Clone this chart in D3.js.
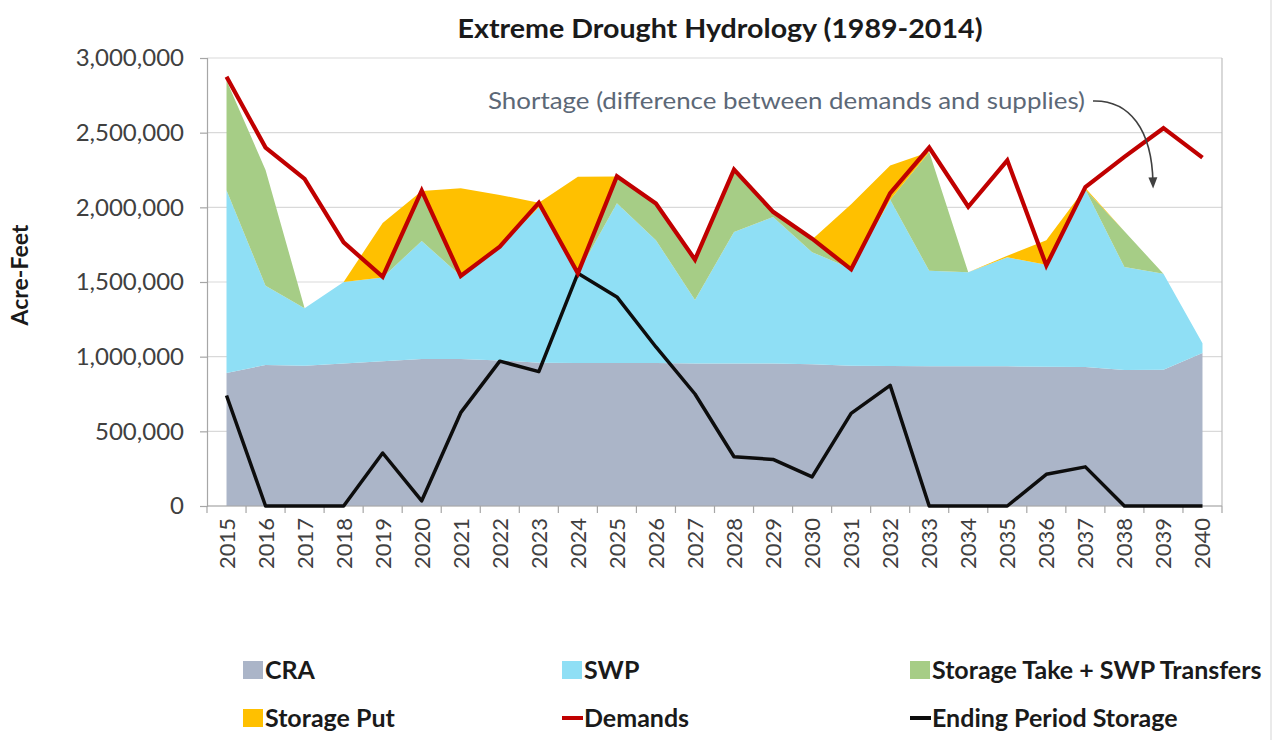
<!DOCTYPE html>
<html>
<head>
<meta charset="utf-8">
<script src="https://cdn.jsdelivr.net/npm/d3@7"></script>
<style>
  body { margin: 0; background: #fff; }
  svg { display: block; font-family: Lato, "Open Sans", sans-serif; }
</style>
</head>
<body>
<div id="chart"></div>
<script>
// years on the x axis
var years = ["2015","2016","2017","2018","2019","2020","2021","2022","2023","2024","2025","2026","2027",
             "2028","2029","2030","2031","2032","2033","2034","2035","2036","2037","2038","2039","2040"];

// supplies (acre-feet), stacked in this order
var cra  = [890000,945000,940000,955000,970000,985000,985000,975000,960000,958000,958000,958000,955000,
            955000,955000,950000,940000,937000,935000,935000,935000,933000,930000,910000,912000,1025000];
var swp  = [1225000,530000,385000,545000,560000,790000,555000,760000,1040000,600000,1069000,822000,425000,
            880000,980000,750000,648000,1113000,640000,630000,730000,682000,1190000,690000,643000,65000];
var storageTake = [735000,775000,0,0,0,335000,0,0,0,0,180000,245000,270000,
                   418000,35000,85000,0,0,795000,0,0,0,0,240000,0,0];
var storagePut  = [0,0,0,0,365000,0,587000,348000,30000,647000,0,0,0,
                   0,0,0,432000,230000,0,0,10000,165000,10000,0,0,0];

// lines
var demands = [2875000,2400000,2190000,1765000,1535000,2112000,1540000,1737000,2030000,1558000,2208000,2025000,1650000,
               2253000,1970000,1790000,1585000,2095000,2400000,2004000,2315000,1610000,2135000,2338000,2530000,2333000];
var endingStorage = [740000,0,0,0,355000,35000,625000,970000,900000,1558000,1400000,1065000,750000,
                     330000,312000,195000,620000,808000,0,0,0,212000,262000,0,0,0];

var yTicks = [0,500000,1000000,1500000,2000000,2500000,3000000];

var W = 1278, H = 740;
var pl = 207, pr = 1222, pt = 58, pb = 506;

var svg = d3.select("#chart").append("svg")
    .attr("width", W)
    .attr("height", H);

var x = d3.scaleBand().domain(years).range([pl, pr]).padding(0);
var cx = function(d) { return x(d) + x.bandwidth() / 2; };
var y = d3.scaleLinear().domain([0, 3000000]).range([pb, pt]);

// frame line at the far right of the picture
svg.append("line")
    .attr("x1", 1271).attr("x2", 1271).attr("y1", 0).attr("y2", H)
    .style("stroke", "#e3e3e3").style("stroke-width", 1.5);

// title
svg.append("text")
    .attr("x", 720).attr("y", 38)
    .attr("text-anchor", "middle")
    .attr("textLength", 525).attr("lengthAdjust", "spacingAndGlyphs")
    .style("font-size", "26px").style("font-weight", "bold").style("fill", "#1a1a1a")
    .text("Extreme Drought Hydrology (1989-2014)");

// gridlines
svg.append("g").selectAll("line")
    .data(yTicks)
    .enter().append("line")
    .attr("x1", pl).attr("x2", pr)
    .attr("y1", function(d) { return y(d); })
    .attr("y2", function(d) { return y(d); })
    .style("stroke", "#d9d9d9").style("stroke-width", 1.2);

// stacked areas
var rows = years.map(function(yr, i) {
    return {year: yr, cra: cra[i], swp: swp[i], take: storageTake[i], put: storagePut[i]};
});
var stack = d3.stack().keys(["cra", "swp", "take", "put"]);
var layers = stack(rows);
var fills = {cra: "#abb5c8", swp: "#8fdff5", take: "#a6cd86", put: "#ffc000"};

var area = d3.area()
    .x(function(d) { return cx(d.data.year); })
    .y0(function(d) { return y(d[0]); })
    .y1(function(d) { return y(d[1]); });

svg.append("g").selectAll("path")
    .data(layers)
    .enter().append("path")
    .attr("d", area)
    .style("fill", function(d) { return fills[d.key]; })
    .style("stroke", "none");

// plot border (right side)
svg.append("line")
    .attr("x1", pr).attr("x2", pr).attr("y1", pt).attr("y2", pb)
    .style("stroke", "#bfbfbf").style("stroke-width", 1.2);

// y axis
var yAxis = d3.axisLeft(y)
    .tickValues(yTicks)
    .tickFormat(d3.format(","))
    .tickSize(7)
    .tickPadding(16);
var gy = svg.append("g").attr("transform", "translate(" + pl + ",0)").call(yAxis);
gy.select(".domain").style("stroke", "#a6a6a6").style("stroke-width", 1.2);
gy.selectAll(".tick line").style("stroke", "#a6a6a6").style("stroke-width", 1.2);
gy.selectAll("text")
    .style("font-size", "24px").style("fill", "#404040")
    .style("font-family", "Lato, sans-serif");

// x axis: ticks between categories, labels rotated
var gx = svg.append("g").attr("transform", "translate(0," + pb + ")");
gx.append("line")
    .attr("x1", pl).attr("x2", pr)
    .style("stroke", "#a6a6a6").style("stroke-width", 1.2);
gx.selectAll(".xt")
    .data(years.concat(["end"]))
    .enter().append("line")
    .attr("class", "xt")
    .attr("x1", function(d, i) { return pl + i * x.bandwidth(); })
    .attr("x2", function(d, i) { return pl + i * x.bandwidth(); })
    .attr("y1", 0).attr("y2", 7)
    .style("stroke", "#a6a6a6").style("stroke-width", 1.2);
gx.selectAll("text")
    .data(years)
    .enter().append("text")
    .attr("transform", function(d) { return "translate(" + (cx(d) + 8) + ",12) rotate(-90)"; })
    .attr("text-anchor", "end")
    .style("font-size", "22px").style("fill", "#404040")
    .text(function(d) { return d; });

// y axis title
svg.append("text")
    .attr("transform", "translate(28,275) rotate(-90)")
    .attr("text-anchor", "middle")
    .style("font-size", "23px").style("font-weight", "bold").style("fill", "#1a1a1a")
    .text("Acre-Feet");

// lines
var line = d3.line()
    .x(function(d, i) { return cx(years[i]); })
    .y(function(d) { return y(d); });

svg.append("path")
    .datum(endingStorage)
    .attr("d", line)
    .style("fill", "none").style("stroke", "#0d0d0d").style("stroke-width", 3.5)
    .style("stroke-linejoin", "round");

svg.append("path")
    .datum(demands)
    .attr("d", line)
    .style("fill", "none").style("stroke", "#c00000").style("stroke-width", 4.2)
    .style("stroke-linejoin", "miter");

// shortage annotation
svg.append("defs").append("marker")
    .attr("id", "arrow")
    .attr("viewBox", "0 0 10 10")
    .attr("refX", 5).attr("refY", 5)
    .attr("markerWidth", 7).attr("markerHeight", 7)
    .attr("orient", "auto")
    .append("path")
    .attr("d", "M0,1 L10,5 L0,9 z")
    .style("fill", "#404040");

svg.append("text")
    .attr("x", 488).attr("y", 109)
    .attr("textLength", 597).attr("lengthAdjust", "spacingAndGlyphs")
    .style("font-size", "24px").style("fill", "#5c6877")
    .text("Shortage (difference between demands and supplies)");

svg.append("path")
    .attr("d", "M1093,101 C1130,100 1152,130 1153,183")
    .style("fill", "none").style("stroke", "#404040").style("stroke-width", 1.6)
    .attr("marker-end", "url(#arrow)");

// legend
var legendItems = [
    {name: "CRA", kind: "box", color: fills.cra, lx: 243, ly: 670},
    {name: "SWP", kind: "box", color: fills.swp, lx: 562, ly: 670},
    {name: "Storage Take + SWP Transfers", kind: "box", color: fills.take, lx: 910, ly: 670},
    {name: "Storage Put", kind: "box", color: fills.put, lx: 243, ly: 718},
    {name: "Demands", kind: "line", color: "#c00000", lx: 562, ly: 718},
    {name: "Ending Period Storage", kind: "line", color: "#0d0d0d", lx: 910, ly: 718}
];

var lg = svg.append("g").selectAll("g")
    .data(legendItems)
    .enter().append("g")
    .attr("transform", function(d) { return "translate(" + d.lx + "," + d.ly + ")"; });

lg.filter(function(d) { return d.kind == "box"; }).append("rect")
    .attr("x", 0).attr("y", -9).attr("width", 20).attr("height", 18)
    .style("fill", function(d) { return d.color; });

lg.filter(function(d) { return d.kind == "line"; }).append("line")
    .attr("x1", 0).attr("x2", 21).attr("y1", 0).attr("y2", 0)
    .style("stroke", function(d) { return d.color; }).style("stroke-width", 4);

lg.append("text")
    .attr("x", 22).attr("y", 9)
    .style("font-size", "25px").style("font-weight", "bold").style("fill", "#1a1a1a")
    .text(function(d) { return d.name; });
</script>
</body>
</html>
